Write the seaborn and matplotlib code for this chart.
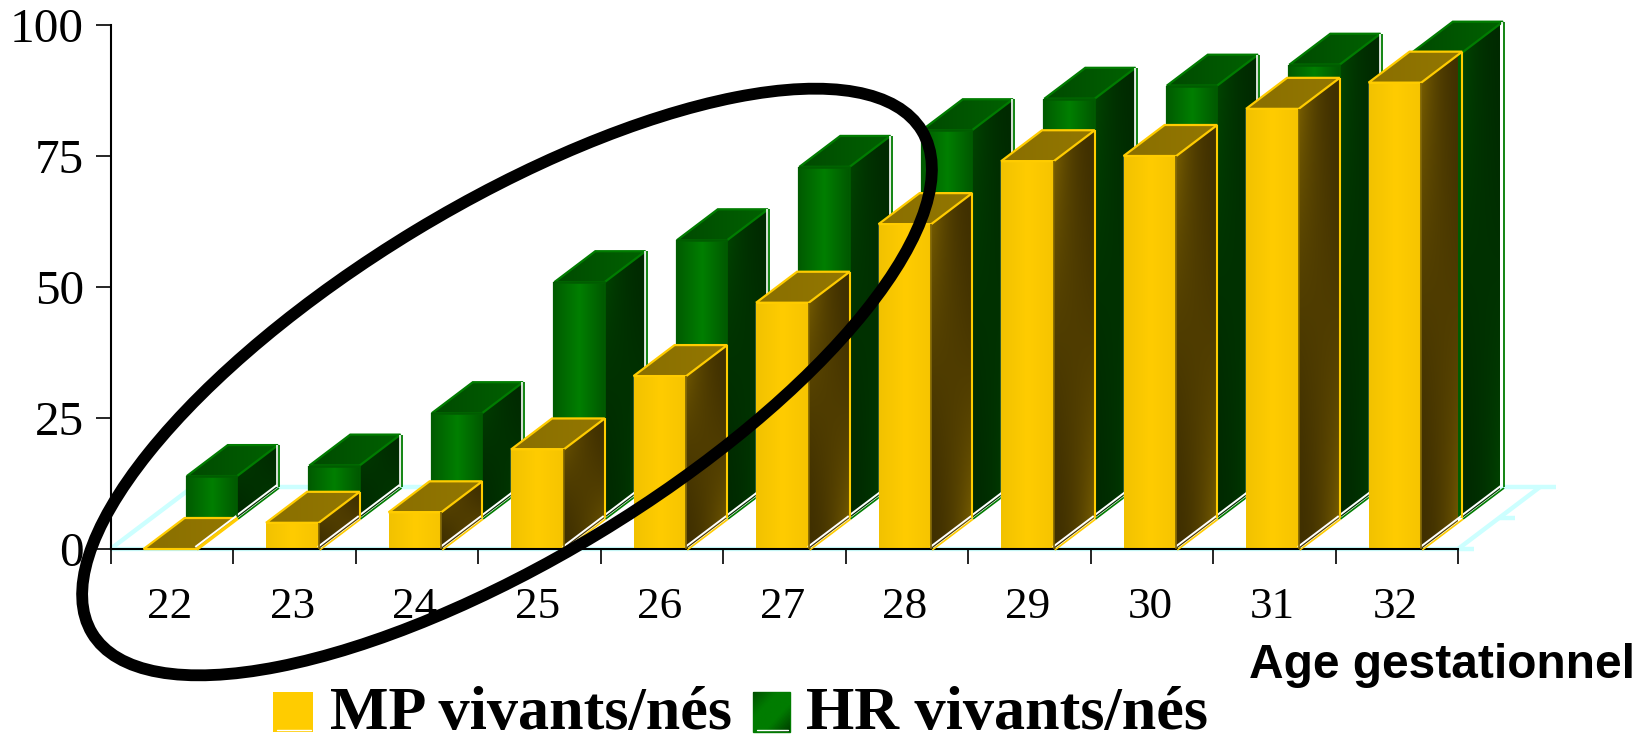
#!/usr/bin/python3
import numpy as np
import pandas as pd
import seaborn as sns
import matplotlib
matplotlib.use("Agg")
import matplotlib.pyplot as plt
from matplotlib.colors import to_rgb
from matplotlib.patches import Ellipse, Polygon, Rectangle
from matplotlib.transforms import IdentityTransform

# values
ages = ["22", "23", "24", "25", "26", "27", "28", "29", "30", "31", "32"]
mp_vivants = [0, 5, 7, 19, 33, 47, 62, 74, 75, 84, 89]
hr_vivants = [8, 10, 20, 45, 53, 67, 74, 80, 82.5, 86.5, 88.8]
y_ticks = [0, 25, 50, 75, 100]

W, H = 1651, 734
LEFT, RIGHT, TOP, BOTTOM = 110.5, 1458, 25, 549
DX, DY = 41, 31  # 3d depth of one bar, pixels
BAR_W = 0.43
BACK_W = 0.41
SHIFT = 0.015  # bars sit a little left of the middle of their slot

sns.set_style("ticks")
plt.rcParams['font.family'] = ['Liberation Serif', 'DejaVu Sans']
plt.rcParams['text.color'] = 'black'
plt.rcParams['xtick.labelcolor'] = 'black'
plt.rcParams['ytick.labelcolor'] = 'black'

fig = plt.figure(figsize=(W / 100, H / 100), dpi=100)
rect = [LEFT / W, 1 - BOTTOM / H, (RIGHT - LEFT) / W, (BOTTOM - TOP) / H]
ax_back = fig.add_axes([rect[0] + (DX + 1) / W, rect[1] + DY / H, rect[2], rect[3]], zorder=1)
ax = fig.add_axes(rect, zorder=2)
ax.patch.set_alpha(0)
pix = IdentityTransform()


def ramp(stops, n=48):
    pos = np.linspace(0, 1, len(stops))
    cols = np.array([to_rgb(c) for c in stops])
    return np.stack([np.interp(np.linspace(0, 1, n), pos, cols[:, i]) for i in range(3)], axis=1)


def fill_gradient(a, xy, img, z=2):
    xy = np.array(xy)
    x0, y0 = xy.min(axis=0)
    x1, y1 = xy.max(axis=0)
    if y1 - y0 < 0.5:
        return
    im = a.imshow(img, extent=(x0, x1, y0, y1), origin="lower", aspect="auto",
                  transform=pix, zorder=z, interpolation="bilinear")
    im.set_clip_path(Polygon(xy, transform=pix))
    im.set_clip_box(None)


def outline(a, xy, color, lw=1.3, z=3):
    a.add_patch(Polygon(xy, closed=True, fill=False, edgecolor=color, lw=lw, transform=pix,
                        clip_on=False, zorder=z, joinstyle="miter"))


def edge(a, p, q, color, lw=1.3, z=3, off=(0, 0)):
    a.plot([p[0] + off[0], q[0] + off[0]], [p[1] + off[1], q[1] + off[1]], color=color, lw=lw,
           transform=pix, clip_on=False, zorder=z, solid_capstyle="butt")


def side_image(dark, light, n=32):
    u, v = np.meshgrid(np.linspace(0, 1, n), np.linspace(0, 1, n))
    t = ((u * (1 - v) + (1 - u) * v) ** 2)[..., None]
    return np.array(to_rgb(dark)) * (1 - t) + np.array(to_rgb(light)) * t


def draw_faces(a, front_stops, dark, light, top_stops, line, front_line, green_rim):
    front = ramp(front_stops)[None, :, :]
    top = ramp(top_stops)[None, :, :]
    side = side_image(dark, light)
    for bar in a.patches:
        (x0, y0), (x1, y1) = a.transData.transform(bar.get_bbox().get_points())
        fill_gradient(a, [(x0, y0), (x1, y0), (x1, y1), (x0, y1)], front)
        s = [(x1, y0), (x1 + DX, y0 + DY), (x1 + DX, y1 + DY), (x1, y1)]
        t = [(x0, y1), (x1, y1), (x1 + DX, y1 + DY), (x0 + DX, y1 + DY)]
        fill_gradient(a, s, side)
        fill_gradient(a, t, top)
        outline(a, t, line, lw=1.6)
        # thin white highlight along the foot and the back of the side face
        edge(a, s[0], s[1], "white", lw=1.4, off=(-1, 2))
        edge(a, s[0], s[1], line, lw=1.2, off=(1, -1))
        if green_rim:
            edge(a, s[1], s[2], "white", lw=1.2, off=(-1, 0))
            edge(a, s[1], s[2], line, lw=1.3, off=(1, 0))
            edge(a, (x0, y0), (x0, y1), front_line, lw=1.6)
            edge(a, (x0, y1), (x1, y1), front_line, lw=1.8)
        else:
            edge(a, s[1], s[2], line, lw=1.5)
            edge(a, (x0, y1), (x1, y1), line, lw=1.4)
        edge(a, s[0], s[3], front_line, lw=1.2)


df = pd.DataFrame({"age": ages, "MP": mp_vivants, "HR": hr_vivants})
sns.barplot(data=df, x="age", y="HR", color="#007000", saturation=1, width=BACK_W, ax=ax_back)
sns.barplot(data=df, x="age", y="MP", color="#ffcc00", saturation=1, width=BAR_W, ax=ax)

for a in (ax, ax_back):
    a.set_xlim(-0.5 + SHIFT, len(ages) - 0.5 + SHIFT)
    a.set_ylim(0, 100)

# pale floor behind the bars
ax_back.axis("off")
floor_c = "#ccffff"
(fx0, fy), (fx1, _) = ax.transAxes.transform([(0, 0), (1, 0)])
floor_kw = dict(color=floor_c, lw=3.2, transform=pix, clip_on=False, zorder=0.5, solid_capstyle="butt")
ax_back.plot([fx0, fx1], [fy, fy], **floor_kw)
ax_back.plot([fx0, fx0 + 2 * DX], [fy, fy + 2 * DY], **floor_kw)
ax_back.plot([fx0 + 2 * DX, fx1 + 2 * DX], [fy + 2 * DY, fy + 2 * DY], **floor_kw)
ax_back.plot([fx1, fx1 + 2 * DX], [fy, fy + 2 * DY], **floor_kw)
for k in (0, 1, 2):
    ax_back.plot([fx1 + k * DX, fx1 + k * DX + 16], [fy + k * DY, fy + k * DY], **floor_kw)

draw_faces(ax_back, ["#005c00", "#007f00", "#005800"], "#002a00", "#004800",
           ["#004a00", "#006200"], "#007c00", "#005c00", True)
draw_faces(ax, ["#f2c200", "#ffcc00", "#f6c400"], "#403000", "#7d6200",
           ["#8a6f00", "#937700"], "#ffcc00", "#7a6000", False)

ax.set_xlabel("")
ax.set_ylabel("")
ax.set_yticks(y_ticks)
sns.despine(ax=ax)
for s in ("left", "bottom"):
    ax.spines[s].set_linewidth(1.5)
    ax.spines[s].set_color("black")
ax.set_xticks(np.arange(len(ages) + 1) - 0.5 + SHIFT, minor=True)
ax.tick_params(axis="x", which="minor", length=11, width=1.2, color="black")
ax.tick_params(axis="x", which="major", length=0, labelsize=32.5, pad=27)
ax.tick_params(axis="y", length=11, width=1.2, color="black", labelsize=35.5, pad=8)

# hand drawn circle round the first weeks
ax.add_patch(Ellipse((507, H - 382), 970, 354, angle=31.2, fill=False, edgecolor="black", lw=8.5,
                     transform=pix, clip_on=False, zorder=10))

fig.text(1249 / W, 1 - 678 / H, "Age gestationnel", family="Liberation Sans", weight="bold",
         fontsize=34.5, va="baseline", zorder=11)

# legend
swatch_y0, swatch_y1 = H - 732, H - 692
leg_ax = fig.add_axes([0, 0, 1, 1], zorder=3)
leg_ax.axis("off")
leg_ax.add_patch(Rectangle((273, swatch_y0), 40, 40, transform=pix, facecolor="#ffcc00", edgecolor="none"))
leg_ax.add_line(plt.Line2D([277, 311], [swatch_y0 + 2, swatch_y0 + 2], color="white", lw=1, transform=pix))
corner = ramp(["#004000", "#007c00", "#007c00", "#005000"], n=24)
diag = corner[np.add.outer(np.arange(24), 23 - np.arange(24)) // 2]
fill_gradient(leg_ax, [(753, swatch_y0), (790, swatch_y0), (790, swatch_y1), (753, swatch_y1)], diag)
leg_ax.add_patch(Rectangle((753, swatch_y0), 37, 40, transform=pix, fill=False, edgecolor="#007c00", lw=1))
leg_ax.add_line(plt.Line2D([757, 788], [swatch_y0 + 2, swatch_y0 + 2], color="white", lw=1, transform=pix))
leg_ax.set_xlim(0, 1)
leg_ax.set_ylim(0, 1)
fig.text(330 / W, 1 - 729 / H, "MP vivants/nés", weight="bold", fontsize=44.7, va="baseline", zorder=11)
fig.text(806 / W, 1 - 729 / H, "HR vivants/nés", weight="bold", fontsize=44.7, va="baseline", zorder=11)

fig.savefig("out.png", dpi=100)
